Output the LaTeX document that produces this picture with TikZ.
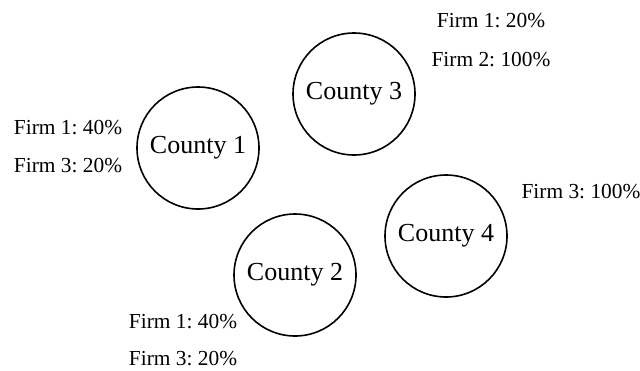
\documentclass[tikz,border=0pt]{standalone}
\usepackage{fontspec}
\setmainfont{Liberation Serif}
\begin{document}
\begin{tikzpicture}[x=0.5pt,y=-0.5pt,
    county/.style={draw, thick, circle, inner sep=0pt, minimum size=61pt, font=\fontsize{13}{15}\selectfont},
    share/.style={font=\fontsize{10.7}{12}\selectfont}]
            \useasboundingbox (0,0) rectangle (640,370);
            % Counties
            \foreach \x/\y/\n in {198/148/1, 295/275/2, 354/94/3, 446/236/4} {
                \node[county] (county\n) at (\x,\y) {County \n};
            }
            % Firm shares
            \node[share] (share1a) at (68,128) {Firm 1:~40\%};
            \node[share] (share1b) at (68,166) {Firm 3:~20\%};
            \node[share] (share2a) at (183,322) {Firm 1:~40\%};
            \node[share] (share2b) at (183,359) {Firm 3:~20\%};
            \node[share] (share3a) at (491,21) {Firm 1:~20\%};
            \node[share] (share3b) at (491,60) {Firm 2:~100\%};
            \node[share] (share4a) at (581,192) {Firm 3:~100\%};
        \end{tikzpicture}
\end{document}
